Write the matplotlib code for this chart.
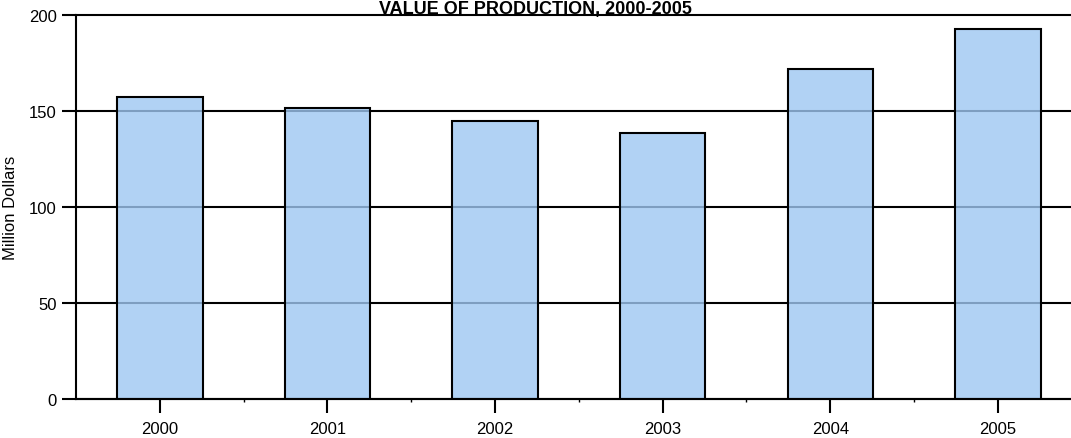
import matplotlib.pyplot as plt
import numpy as np

years = ["2000", "2001", "2002", "2003", "2004", "2005"]
values = [157.3, 151.4, 144.8, 138.7, 171.9, 192.7]

plt.rcParams['font.family'] = ['Liberation Sans', 'DejaVu Sans']

fig = plt.figure(figsize=(10.71, 4.39), dpi=100, facecolor="w")
ax = fig.add_axes([0.071, 0.0888, 0.939, 0.8748])

x = np.arange(len(years))
ax.set_axisbelow(True)
ax.yaxis.grid(True, color="k", lw=1.5)
ax.bar(x, values, width=0.51, color=(0.62, 0.78, 0.95, 0.8), edgecolor="k", lw=1.5, zorder=2)

ax.set_xlim(-0.5, 5.5)
ax.set_ylim(0, 200)
ax.set_yticks([0, 50, 100, 150, 200])
ax.set_xticks(x)
ax.set_xticklabels(years)
ax.set_xticks(x[:-1] + 0.5, minor=True)
ax.tick_params(axis="x", which="major", length=10, width=1.5, labelsize=12, pad=6)
ax.tick_params(axis="x", which="minor", length=2, width=1)
ax.tick_params(axis="y", length=10, width=1.5, labelsize=12, pad=4)

# top grid line sits on the axes edge, keep it full width
for gl in ax.get_ygridlines():
    gl.set_clip_on(False)

for s in ["right", "top"]:
    ax.spines[s].set_visible(False)
ax.spines["left"].set_linewidth(1.5)
ax.spines["bottom"].set_linewidth(1.5)

ax.set_ylabel("Million Dollars", fontsize=12)
ax.yaxis.set_label_coords(-0.058, 0.5)
fig.text(0.5, 0.9692, "VALUE OF PRODUCTION, 2000-2005", ha="center", va="baseline",
         fontsize=13, fontweight="bold")

fig.savefig("out.png", dpi=100)
